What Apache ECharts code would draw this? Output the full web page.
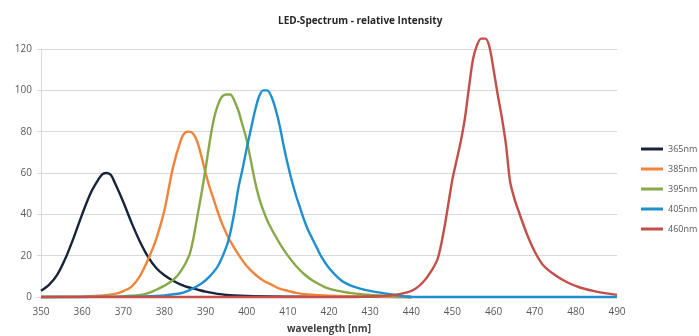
<!DOCTYPE html>
<html>
<head>
<meta charset="utf-8">
<script src="https://cdn.jsdelivr.net/npm/echarts@6/dist/echarts.min.js"></script>
<style>
  html, body { margin: 0; padding: 0; background: #fff; }
  #chart { width: 699px; height: 336px; }
</style>
</head>
<body>
<div id="chart"></div>
<script>
// values (wavelength nm / relative intensity)
const seriesNames = ['365nm', '385nm', '395nm', '405nm', '460nm'];

const wl365 = [350, 352, 354, 356, 358, 360, 362, 364, 365, 366, 367, 368, 370, 372, 374, 376, 378, 380, 382, 384, 386, 388, 390, 395, 400, 410, 420, 440];
const int365 = [3, 6, 11, 19, 29, 40, 50, 57, 59.5, 60, 59, 55, 46, 36, 27, 19.5, 14, 10.5, 8, 6, 4.6, 3.6, 2.6, 1, 0.5, 0.2, 0.1, 0];

const wl385 = [350, 360, 364, 368, 370, 372, 374, 376, 378, 380, 382, 384, 385, 386, 387, 388, 389, 390, 391, 392, 393, 394, 395, 396, 398, 400, 402, 404, 406, 408, 410, 412, 415, 420, 430, 440];
const int385 = [0, 0.3, 0.6, 1.5, 2.8, 5, 10, 18, 28, 42, 62, 76, 79.5, 80, 79, 75, 68, 60, 53, 47, 41, 35.5, 31, 27, 20.5, 15, 11, 8, 6, 4, 3, 2, 1.2, 0.6, 0.2, 0];

const wl395 = [350, 365, 370, 375, 378, 380, 382, 384, 386, 387, 388, 389, 390, 391, 392, 393, 394, 395, 396, 397, 398, 399, 400, 401, 402, 403, 404, 405, 406, 408, 410, 412, 414, 416, 420, 425, 430, 435, 440];
const int395 = [0, 0.1, 0.4, 1.3, 3.5, 5.5, 8, 12.5, 20, 28, 39, 50, 62, 75, 86, 93, 97, 98, 98, 95, 90, 83, 76, 66, 56, 48, 42, 37, 33, 26, 20, 15, 11, 8, 4, 2, 1, 0.5, 0];

const wl405 = [350, 370, 375, 380, 384, 386, 389, 391, 393, 395, 396, 397, 398, 399, 400, 401, 402, 403, 404, 405, 406, 407, 408, 409, 410, 411, 412, 413, 414, 415, 417, 418, 420, 423, 426, 429, 434, 437, 440, 490];
const int405 = [0, 0.1, 0.3, 0.8, 1.8, 3.2, 6.5, 10, 15, 24, 31, 41, 53, 62, 72, 81, 90, 97, 100, 100, 97, 91, 83, 73, 64, 56, 49, 43, 37, 32, 24, 20, 14, 8, 5, 3.3, 1.6, 0.7, 0, 0];

const wl460 = [350, 425, 430, 435, 439, 441, 443, 445, 446.5, 448, 449, 450, 451, 452, 453, 454, 455, 456, 457, 458, 459, 460, 461, 462, 463, 464, 465, 466, 468, 470, 472, 475, 478, 481, 485, 490];
const int460 = [0, 0, 0.3, 0.8, 2.2, 4, 7.5, 13, 19, 33, 45, 57, 66, 75, 86, 101, 115, 122, 125, 125, 121, 110, 98, 87, 74, 56, 48, 42, 31, 22, 15.5, 10.5, 7, 4.6, 2.6, 1];

const seriesColors = ['#17243a', '#f0843a', '#87a94a', '#1f8fcf', '#c24f4a'];

const wlLists = [wl365, wl385, wl395, wl405, wl460];
const intLists = [int365, int385, int395, int405, int460];

const font = '"Open Sans", "Liberation Sans", sans-serif';

const chart = echarts.init(document.getElementById('chart'));

const series = seriesNames.map((name, i) => ({
  name: name,
  type: 'line',
  data: wlLists[i].map((w, j) => [w, intLists[i][j]]),
  smooth: 0.3,
  showSymbol: false,
  clip: false,
  lineStyle: { width: 2.4, color: seriesColors[i] },
  itemStyle: { color: seriesColors[i] }
}));

chart.setOption({
  animation: false,
  backgroundColor: '#fff',
  title: {
    text: 'LED-Spectrum - relative Intensity',
    left: 273,
    top: 11,
    textStyle: { fontFamily: font, fontSize: 10, fontWeight: 'bold', color: '#262626' }
  },
  legend: {
    orient: 'vertical',
    left: 636,
    top: 138,
    itemWidth: 22,
    itemHeight: 3,
    itemGap: 8,
    icon: 'rect',
    data: seriesNames,
    textStyle: { fontFamily: font, fontSize: 9, color: '#595959', lineHeight: 12 }
  },
  grid: { left: 41, right: 82, top: 49, bottom: 39, outerBoundsMode: 'none' },
  xAxis: {
    type: 'value',
    min: 350,
    max: 490,
    interval: 10,
    name: 'wavelength [nm]',
    nameLocation: 'middle',
    nameGap: 27,
    nameTextStyle: { fontFamily: font, fontSize: 10, fontWeight: 'bold', color: '#404040' },
    axisLine: { show: true, lineStyle: { color: '#d9d9d9', width: 1 } },
    axisTick: { show: false },
    splitLine: { show: false },
    axisLabel: { fontFamily: font, fontSize: 10, color: '#595959', margin: 10 }
  },
  yAxis: {
    type: 'value',
    min: 0,
    max: 120,
    interval: 20,
    axisLine: { show: true, lineStyle: { color: '#d9d9d9', width: 1 } },
    axisTick: { show: true, length: 4, lineStyle: { color: '#d9d9d9' } },
    splitLine: { show: true, lineStyle: { color: '#d9d9d9', width: 1 } },
    axisLabel: { fontFamily: font, fontSize: 10, color: '#595959', margin: 9 }
  },
  series: series
});
</script>
</body>
</html>
